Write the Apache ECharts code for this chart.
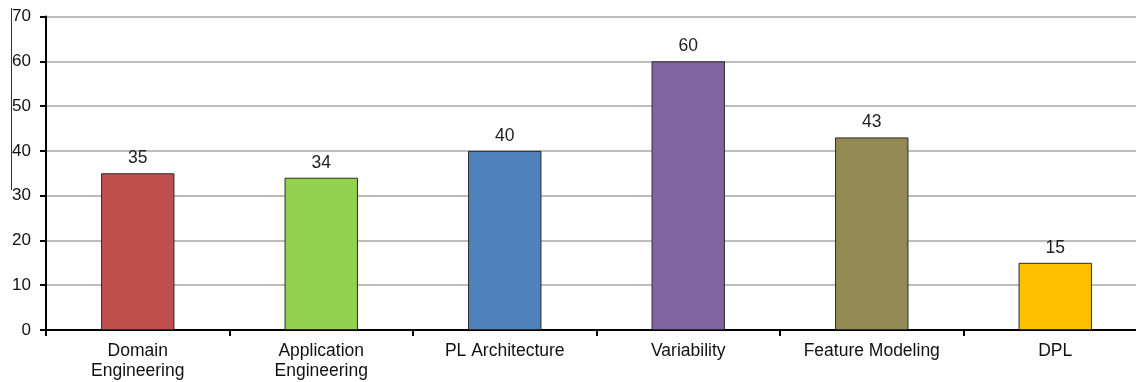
<!DOCTYPE html>
<html>
<head>
<meta charset="utf-8">
<script src="https://cdn.jsdelivr.net/npm/echarts@6/dist/echarts.min.js"></script>
<style>
html,body{margin:0;padding:0;background:#fff;overflow:hidden;width:1136px;height:382px;}
#chart{width:1160px;height:382px;}
</style>
</head>
<body>
<div id="chart"></div>
<script>
const categories = ['Domain\nEngineering', 'Application\nEngineering', 'PL Architecture', 'Variability', 'Feature Modeling', 'DPL'];
const values = [35, 34, 40, 60, 43, 15];
const barColors = ['#C0504D', '#92D050', '#4F81BD', '#8064A2', '#948A54', '#FFC000'];

const chart = echarts.init(document.getElementById('chart'), null, {renderer: 'canvas'});
chart.setOption({
  animation: false,
  backgroundColor: '#ffffff',
  grid: {left: 46, top: 16.5, width: 1101, height: 313.5, containLabel: false},
  xAxis: {
    type: 'category',
    data: categories,
    boundaryGap: true,
    axisLine: {show: true, lineStyle: {color: '#000', width: 2}},
    axisTick: {show: true, length: 6, alignWithLabel: false, lineStyle: {color: '#000', width: 2}},
    axisLabel: {color: '#111', fontFamily: 'Liberation Sans, Arial', fontSize: 17.5, lineHeight: 20, margin: 11, interval: 0}
  },
  yAxis: {
    type: 'value',
    min: 0, max: 70, interval: 10,
    axisLine: {show: true, lineStyle: {color: '#000', width: 2}},
    axisTick: {show: true, length: 6, lineStyle: {color: '#000', width: 2}},
    axisLabel: {color: '#111', fontFamily: 'Liberation Sans, Arial', fontSize: 17, margin: 15},
    splitLine: {show: true, lineStyle: {color: '#a6a6a6', width: 1.5}}
  },
  series: [{
    type: 'bar',
    data: values.map((v, i) => ({value: v, itemStyle: {color: barColors[i]}})),
    barWidth: '40%',
    itemStyle: {borderColor: '#2a2a2a', borderWidth: 1},
    label: {show: true, position: 'top', distance: 6, color: '#222', fontFamily: 'Liberation Sans, Arial', fontSize: 17.5}
  }],
  graphic: [{
    type: 'line', silent: true,
    shape: {x1: 11.5, y1: 8, x2: 11.5, y2: 190},
    style: {stroke: '#333', lineWidth: 1}
  }]
});
</script>
</body>
</html>
